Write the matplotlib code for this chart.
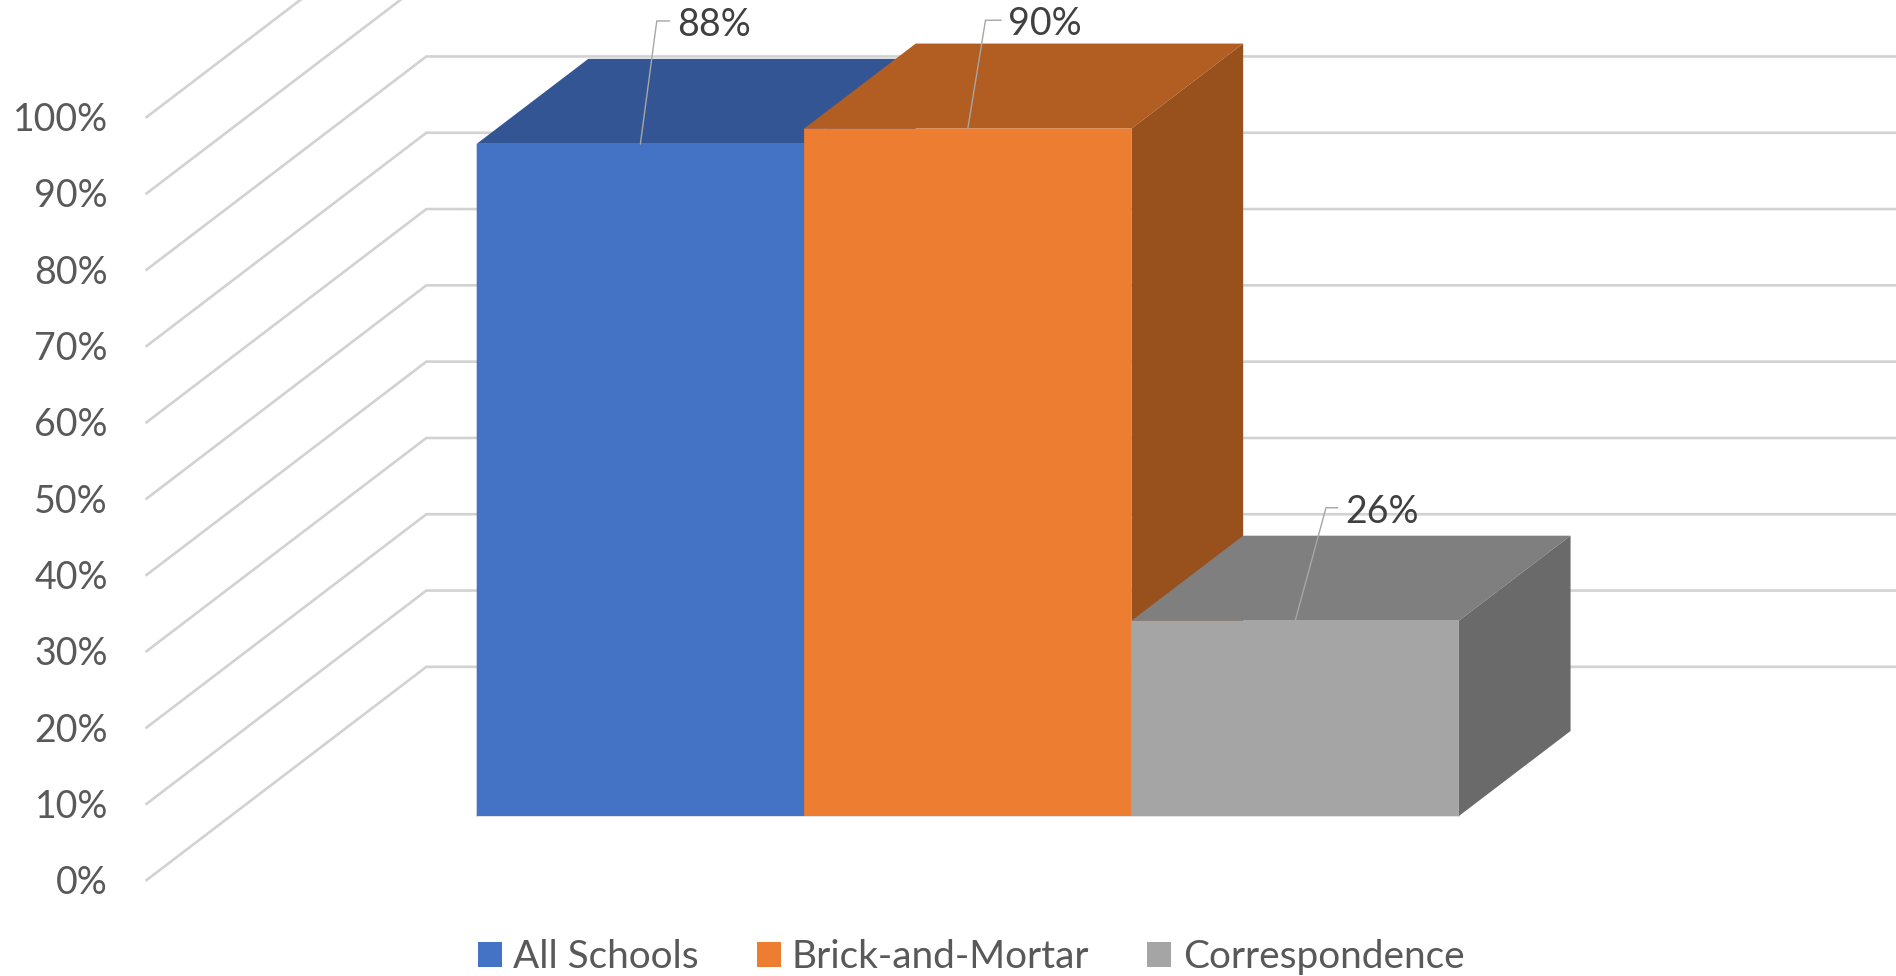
"""Oblique 3-D style column chart, drawn with plain 2-D fills."""

import matplotlib.pyplot as plt
from matplotlib.patches import Patch

# ------------------------------------------------------------------ data ----
categories = ["All Schools", "Brick-and-Mortar", "Correspondence"]
values = [88.1, 90.1, 25.6]
value_labels = ["88%", "90%", "26%"]
axis_ticks = [0, 10, 20, 30, 40, 50, 60, 70, 80, 90, 100]
axis_tick_labels = ["0%", "10%", "20%", "30%", "40%", "50%", "60%", "70%", "80%", "90%", "100%"]

# ----------------------------------------------------------------- style ----
FRONT = ["#4472C4", "#ED7D31", "#A5A5A5"]
TOP = ["#335593", "#B25D22", "#7F7F7F"]
SIDE = ["#2A4A80", "#98501C", "#6A6A6A"]
COLOR_GRID = "#D2D2D2"
COLOR_AXIS_TEXT = "#595959"
COLOR_LABEL = "#404040"
COLOR_LEADER = "#A6A6A6"

plt.rcParams["font.family"] = ["Lato", "DejaVu Sans"]

# x unit = one column width, y unit = one percentage point on the front plane
XLIM = (-1.456, 4.335)
YLIM = (-20.97, 106.95)
DEPTH_X = 0.341
DEPTH_Y = 11.14

# wall: the floor sits lower and further left than the columns
WALL_X = -1.0083
WALL_OFFSET = -8.4
WALL_DX = 0.8545
WALL_DY = 27.95

# leader lines: height above the column, elbow shift, arm length
LEADER_RISE = [16.1, 14.2, 14.8]
LEADER_ELBOW = [0.050, 0.054, 0.094]
LEADER_ARM = [0.0385, 0.047, 0.035]

fig = plt.figure(figsize=(18.96, 9.76), dpi=100)
ax = fig.add_axes([0, 0, 1, 1])
ax.set_xlim(*XLIM)
ax.set_ylim(*YLIM)
ax.axis("off")

# ------------------------------------------------------------- wall grid ----
for tick, tick_label in zip(axis_ticks, axis_tick_labels):
    y0 = tick + WALL_OFFSET
    ax.plot([WALL_X, WALL_X + WALL_DX, XLIM[1]], [y0, y0 + WALL_DY, y0 + WALL_DY],
            color=COLOR_GRID, lw=1.9, solid_joinstyle="miter", zorder=1)
    ax.text(WALL_X - 0.118, y0 - 0.4, tick_label, ha="right", va="center",
            fontsize=27, color=COLOR_AXIS_TEXT)

# --------------------------------------------------------------- columns ----
ax.plot([0, len(values)], [0, 0], color="#E2E2E2", lw=1.5, zorder=1.5)
for i, v in enumerate(values):
    z = 2 + i
    ax.fill([i, i + 1, i + 1 + DEPTH_X, i + DEPTH_X],
            [v, v, v + DEPTH_Y, v + DEPTH_Y], color=TOP[i], lw=0, zorder=z)
    ax.fill([i + 1, i + 1 + DEPTH_X, i + 1 + DEPTH_X, i + 1],
            [0, DEPTH_Y, v + DEPTH_Y, v], color=SIDE[i], lw=0, zorder=z)
    # bars snap to whole pixels by default, which leaves a seam against the fills
    ax.bar(i, v, width=1, align="edge", color=FRONT[i], lw=0, zorder=z, snap=False)

# ---------------------------------------------------------------- labels ----
for i, (v, text) in enumerate(zip(values, value_labels)):
    xc = i + 0.5
    elbow_x = xc + LEADER_ELBOW[i]
    end_x = elbow_x + LEADER_ARM[i]
    ly = v + LEADER_RISE[i]
    ax.plot([xc, elbow_x, end_x], [v, ly, ly], color=COLOR_LEADER, lw=1.0, zorder=6)
    ax.text(end_x + 0.023, ly - 0.5, text, ha="left", va="center",
            fontsize=27, color=COLOR_LABEL, zorder=7)

# ---------------------------------------------------------------- legend ----
handles = [Patch(facecolor=c, edgecolor="none") for c in FRONT]
ax.legend(handles, categories, ncol=3, loc="center", frameon=False,
          bbox_to_anchor=(0.5121, 0.0195), fontsize=27.9, labelcolor=COLOR_AXIS_TEXT,
          handlelength=0.62, handleheight=0.62, handletextpad=0.29, columnspacing=1.5,
          borderpad=0, borderaxespad=0)

fig.savefig("out.png", dpi=100)
